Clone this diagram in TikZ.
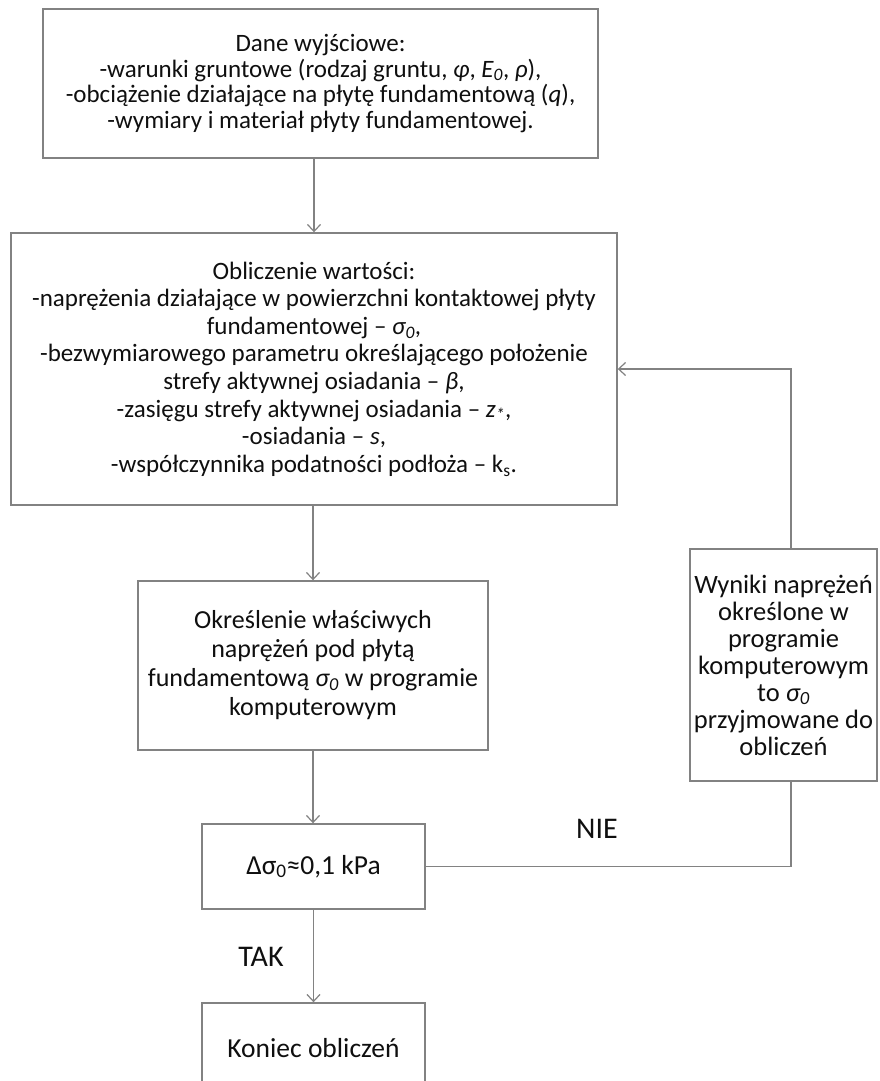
\documentclass[tikz,border=0pt]{standalone}
\usepackage{fontspec}
\setmainfont{Carlito}
\usetikzlibrary{arrows.meta}
\definecolor{linegray}{RGB}{130,130,130}
\definecolor{txt}{RGB}{15,15,15}
\begin{document}
\begin{tikzpicture}[x=1pt,y=-1pt,
  box/.style={draw=linegray, line width=1.4pt, inner sep=0pt, align=center, text=txt},
  fa/.style={font=\fontsize{25}{25.7}\selectfont},
  fb/.style={font=\fontsize{25}{27.6}\selectfont},
  fc/.style={font=\fontsize{26}{29}\selectfont},
  fd/.style={font=\fontsize{26.5}{27}\selectfont},
  fe/.style={font=\fontsize{27.5}{30}\selectfont},
  lbl/.style={text=txt, font=\fontsize{30}{34}\selectfont, inner sep=0pt},
  conn/.style={draw=linegray, line width=1.4pt},
  arr/.style={conn, -{Straight Barb[length=7pt,width=13pt,line width=1.2pt]}}]
\clip (0,0) rectangle (879,1081);
\fill[white] (0,0) rectangle (879,1081);

\node[box, fa, minimum width=555pt, minimum height=149pt] (b1) at (320.5,83.5)
 {Dane wyjściowe:\\
  -warunki gruntowe (rodzaj gruntu, \textit{φ}, \textit{E\textsubscript{0}}, \textit{ρ}),\\
  -obciążenie działające na płytę fundamentową (\textit{q}),\\
  -wymiary i materiał płyty fundamentowej.};

\node[box, fb, minimum width=606pt, minimum height=272pt] (b2) at (314,369)
 {Obliczenie wartości:\\
  -naprężenia działające w powierzchni kontaktowej płyty\\
  fundamentowej – \textit{σ\textsubscript{0}},\\
  -bezwymiarowego parametru określającego położenie\\
  strefy aktywnej osiadania – \textit{β},\\
  -zasięgu strefy aktywnej osiadania – \textit{z\textsubscript{*}},\\
  -osiadania – \textit{s},\\
  -współczynnika podatności podłoża – k\textsubscript{s}.};

\node[box, fc, minimum width=350pt, minimum height=169pt] (b3) at (313,665.5)
 {Określenie właściwych\\
  naprężeń pod płytą\\
  fundamentową \textit{σ\textsubscript{0}} w programie\\
  komputerowym};

\node[box, fd, minimum width=187pt, minimum height=232pt] (b6) at (783.5,665)
 {Wyniki naprężeń\\
  określone w\\
  programie\\
  komputerowym\\
  to \textit{σ\textsubscript{0}}\\
  przyjmowane do\\
  obliczeń};

\node[box, fe, minimum width=223pt, minimum height=85pt] (b4) at (313.5,866.5)
 {Δσ\textsubscript{0}≈0,1 kPa};

\node[box, fe, minimum width=223pt, minimum height=90pt] (b5) at (313.5,1048)
 {Koniec obliczeń};

\node[lbl] (nie) at (597,829) {NIE};
\node[lbl] (tak) at (261,957) {TAK};

\coordinate (c1) at (791,866.5);
\coordinate (c2) at (791,369);

\draw[arr] (b1.south -| b2.north) -- (b2.north);
\draw[arr] (b2.south -| b3.north) -- (b3.north);
\draw[arr] (b3.south) -- (b3.south |- b4.north);
\draw[arr] (b4.south) -- (b5.north);
\draw[conn] (b4.east) -- (c1) -- (b6.south -| c1);
\draw[arr] (b6.north -| c2) -- (c2) -- (b2.east);
\end{tikzpicture}
\end{document}
